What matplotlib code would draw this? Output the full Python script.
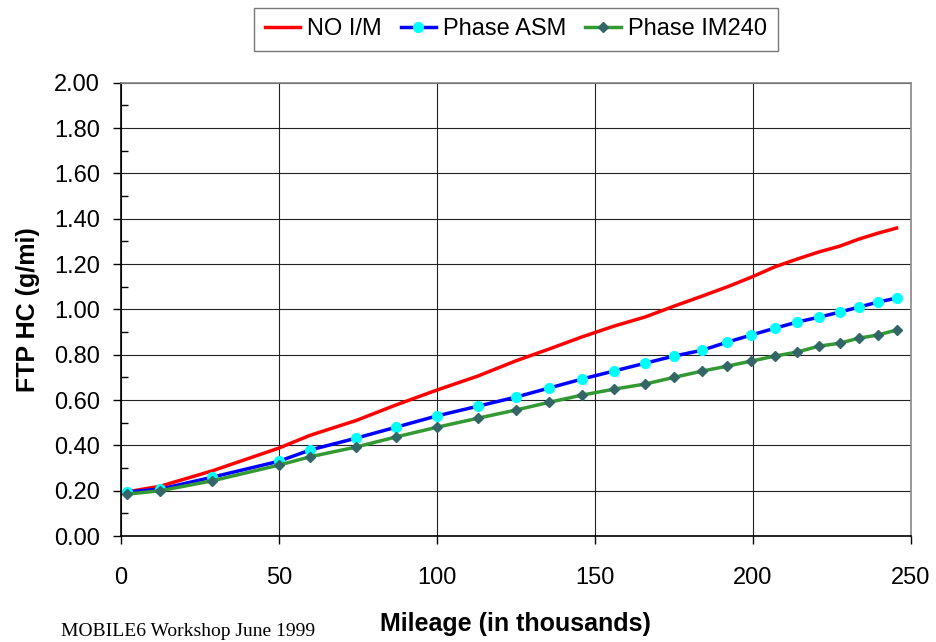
import numpy as np
import matplotlib
matplotlib.use("Agg")
import matplotlib.pyplot as plt
from matplotlib.ticker import MultipleLocator, FormatStrFormatter

# ---- data ----
mileage = [2, 12.5, 29, 50, 60, 74.5, 87, 100, 113, 125, 135.5, 146, 156,
           166, 175, 184, 192, 199.5, 207, 214, 221, 227.5, 233.5, 239.5, 245.5]
no_im = [0.195, 0.22, 0.288, 0.388, 0.445, 0.51, 0.578, 0.644, 0.706, 0.773,
         0.825, 0.879, 0.926, 0.967, 1.014, 1.059, 1.10, 1.142, 1.188, 1.222,
         1.254, 1.279, 1.31, 1.336, 1.359]
phase_asm = [0.195, 0.207, 0.26, 0.33, 0.38, 0.432, 0.48, 0.53, 0.573, 0.613,
             0.653, 0.693, 0.728, 0.763, 0.794, 0.82, 0.856, 0.887, 0.917,
             0.944, 0.966, 0.988, 1.01, 1.032, 1.05]
phase_im240 = [0.185, 0.2, 0.244, 0.313, 0.35, 0.393, 0.437, 0.48, 0.52, 0.556,
               0.59, 0.622, 0.648, 0.671, 0.70, 0.728, 0.75, 0.772, 0.794,
               0.812, 0.838, 0.851, 0.873, 0.887, 0.909]

plt.rcParams['font.family'] = ['Liberation Sans', 'DejaVu Sans']

fig = plt.figure(figsize=(9.36, 6.42), dpi=100)
ax = fig.add_axes([0.129, 0.165, 0.844, 0.706])

ax.plot(mileage, no_im, color='#FF0000', lw=2.5, label='NO I/M', zorder=3)
ax.plot(mileage, phase_asm, color='#0000FF', lw=2.5, marker='o', ms=7,
        mfc='#00FFFF', mec='#00FFFF', label='Phase ASM', zorder=4)
ax.plot(mileage, phase_im240, color='#339933', lw=2.5, marker='D', ms=5,
        mfc='#336666', mec='#336666', label='Phase IM240', zorder=5)

ax.set_xlim(0, 250)
ax.set_ylim(0, 2.0)
ax.xaxis.set_major_locator(MultipleLocator(50))
ax.yaxis.set_major_locator(MultipleLocator(0.2))
ax.yaxis.set_minor_locator(MultipleLocator(0.1))
ax.yaxis.set_major_formatter(FormatStrFormatter('%.2f'))

ax.grid(True, which='major', color='#222222', lw=0.8)
ax.set_axisbelow(True)
ax.tick_params(axis='both', which='major', direction='out', length=6,
               width=1, labelsize=17, color='black')
ax.tick_params(axis='x', which='major', pad=16)
ax.tick_params(axis='y', which='major', pad=9)
ax.tick_params(axis='y', which='minor', direction='in', length=5, width=1)

for side in ['left', 'bottom']:
    ax.spines[side].set_color('black')
    ax.spines[side].set_linewidth(1.2)
for side in ['top', 'right']:
    ax.spines[side].set_color('#888888')
    ax.spines[side].set_linewidth(1.2)

ax.set_xlabel('Mileage (in thousands)', fontsize=18, fontweight='bold',
              labelpad=17)
ax.set_ylabel('FTP HC (g/mi)', fontsize=18, fontweight='bold', labelpad=10)

leg = ax.legend(loc='lower center', bbox_to_anchor=(0.5, 1.07), ncol=3,
                fontsize=17, frameon=True, fancybox=False, handlelength=1.5,
                handletextpad=0.3, columnspacing=0.8, borderpad=0.45,
                borderaxespad=0)
leg.get_frame().set_edgecolor('#555555')
leg.get_frame().set_linewidth(1.0)

fig.text(0.065, 0.003, 'MOBILE6 Workshop June 1999', fontsize=14,
         family=['Liberation Serif', 'DejaVu Serif'], va='bottom')

fig.savefig('out.png', dpi=100)
